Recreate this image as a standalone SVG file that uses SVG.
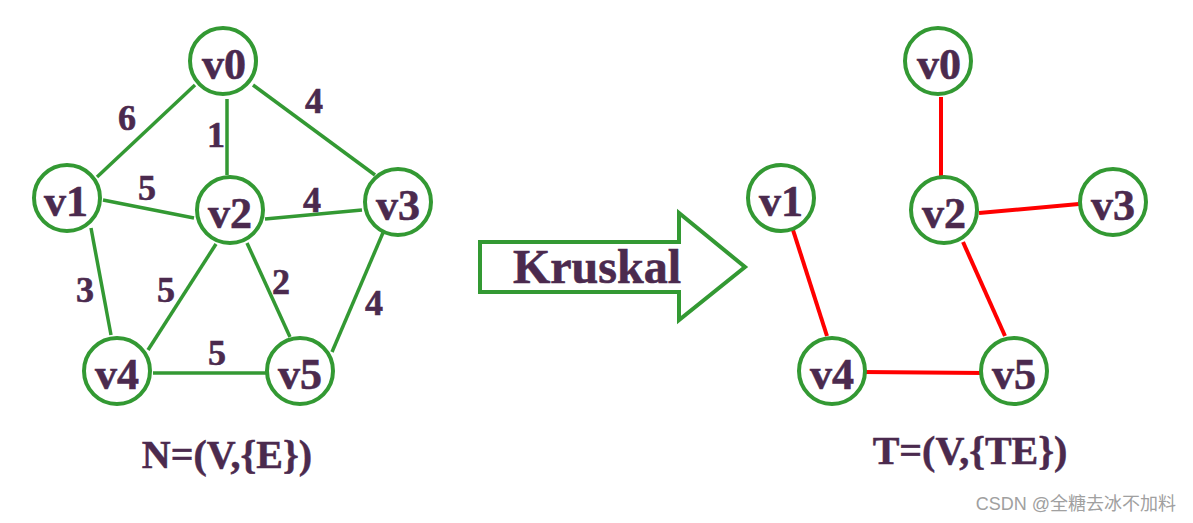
<svg xmlns="http://www.w3.org/2000/svg" width="1193" height="523" viewBox="0 0 1193 523">
<style>
.n circle{fill:#fff;stroke:#339933;stroke-width:4}
.n text{font-family:"Liberation Serif",serif;font-weight:bold;font-size:44px;fill:#4b2a4e;stroke:#4b2a4e;stroke-width:0.6;text-anchor:middle}
.e line{stroke:#339933;stroke-width:3.5}
.t line{stroke:#ff0000;stroke-width:4}
.w{font-family:"Liberation Serif",serif;font-weight:bold;font-size:36px;fill:#4b2a4e;stroke:#4b2a4e;stroke-width:0.6;text-anchor:middle}
.lab{font-family:"Liberation Serif",serif;font-weight:bold;font-size:40px;fill:#4b2a4e;stroke:#4b2a4e;stroke-width:0.5}
</style>
<rect width="1193" height="523" fill="#fff"/>
<g id="edges-left" class="e">
<line x1="195" y1="85" x2="97" y2="177"/>
<line x1="227" y1="99" x2="227" y2="175"/>
<line x1="253" y1="85" x2="375" y2="175"/>
<line x1="103" y1="200" x2="194" y2="218"/>
<line x1="265" y1="219" x2="362" y2="210"/>
<line x1="91" y1="228" x2="111" y2="335"/>
<line x1="216" y1="244" x2="148" y2="350"/>
<line x1="247" y1="243" x2="290" y2="337"/>
<line x1="385" y1="228" x2="332" y2="352"/>
<line x1="153" y1="373" x2="266" y2="373"/>
</g>
<g id="weights">
<text class="w" x="127" y="130">6</text>
<text class="w" x="216" y="147">1</text>
<text class="w" x="314" y="113">4</text>
<text class="w" x="147" y="200">5</text>
<text class="w" x="312" y="212">4</text>
<text class="w" x="85" y="302">3</text>
<text class="w" x="166" y="302">5</text>
<text class="w" x="281" y="294">2</text>
<text class="w" x="374" y="315">4</text>
<text class="w" x="217" y="365">5</text>
</g>
<g id="L-v0" class="n"><circle cx="223" cy="61" r="33"/><text x="224" y="79">v0</text></g>
<g id="L-v1" class="n"><circle cx="67" cy="198" r="33"/><text x="66" y="216">v1</text></g>
<g id="L-v2" class="n"><circle cx="230" cy="210" r="33"/><text x="230" y="228">v2</text></g>
<g id="L-v3" class="n"><circle cx="398" cy="202" r="33"/><text x="398" y="220">v3</text></g>
<g id="L-v4" class="n"><circle cx="117" cy="371" r="33"/><text x="117" y="389">v4</text></g>
<g id="L-v5" class="n"><circle cx="300" cy="371" r="33"/><text x="300" y="389">v5</text></g>
<text id="label-N" class="lab" x="227" y="468" text-anchor="middle">N=(V,{E})</text>
<g id="arrow">
<polygon points="480,242 679,242 679,213 745,267 679,320 679,292 480,292" fill="#fff" stroke="#339933" stroke-width="4"/>
<text x="597" y="283" text-anchor="middle" style="font-family:'Liberation Serif',serif;font-weight:bold;font-size:48px;fill:#4b2a4e;stroke:#4b2a4e;stroke-width:0.6">Kruskal</text>
</g>
<g id="edges-right" class="t">
<line x1="941" y1="97" x2="941" y2="178"/>
<line x1="979" y1="213" x2="1079" y2="204"/>
<line x1="963" y1="242" x2="1005" y2="336"/>
<line x1="793" y1="230" x2="827" y2="336"/>
<line x1="862" y1="372" x2="984" y2="373"/>
</g>
<g id="R-v0" class="n"><circle cx="938" cy="61" r="33"/><text x="939" y="79">v0</text></g>
<g id="R-v1" class="n"><circle cx="781" cy="198" r="33"/><text x="781" y="216">v1</text></g>
<g id="R-v2" class="n"><circle cx="944" cy="210" r="33"/><text x="944" y="228">v2</text></g>
<g id="R-v3" class="n"><circle cx="1113" cy="202" r="33"/><text x="1113" y="220">v3</text></g>
<g id="R-v4" class="n"><circle cx="832" cy="371" r="33"/><text x="832" y="389">v4</text></g>
<g id="R-v5" class="n"><circle cx="1014" cy="371" r="33"/><text x="1014" y="389">v5</text></g>
<text id="label-T" class="lab" x="970" y="464" text-anchor="middle">T=(V,{TE})</text>
<text id="watermark" x="1176" y="510" text-anchor="end" style="font-family:'Liberation Sans','Noto Sans CJK SC',sans-serif;font-size:18px;fill:#a0a0a0">CSDN @全糖去冰不加料</text>
</svg>
